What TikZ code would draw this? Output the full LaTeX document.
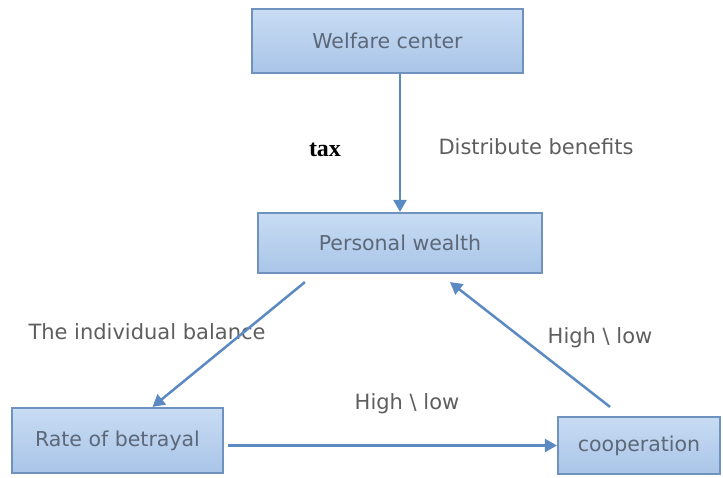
\documentclass[tikz,border=0pt]{standalone}
\usepackage{fontspec}
\usepackage{tikz}
\usetikzlibrary{arrows.meta,calc}
\newfontfamily\boxfont{DejaVu Sans}
\newfontfamily\taxfont{Liberation Serif}
\definecolor{boxline}{HTML}{6F92BF}
\definecolor{boxtop}{HTML}{C8DCF3}
\definecolor{boxbot}{HTML}{A9C5E8}
\definecolor{boxtext}{HTML}{5C6878}
\definecolor{arrowblue}{HTML}{5B8AC2}
\definecolor{labeltext}{HTML}{5E5E5E}

\tikzset{
  stagebox/.style={draw=boxline, line width=2.2pt, top color=boxtop, bottom color=boxbot,
    text=boxtext, font=\boxfont\fontsize{20.5}{24}\selectfont, inner sep=0pt},
  flow/.style={draw=arrowblue, line width=2.5pt, -{Triangle[length=12pt,width=13pt]}},
  lbl/.style={text=labeltext, font=\boxfont\fontsize{21}{25}\selectfont, inner sep=0pt}
}

\begin{document}
\begin{tikzpicture}[x=1pt, y=-1pt]
  \useasboundingbox (0,0) rectangle (723,477);
  % boxes
  \node[stagebox, minimum width=271pt, minimum height=64pt] (wel)  at (387.5,41) {Welfare center};
  \node[stagebox, minimum width=284pt, minimum height=60pt] (pw)   at (400,243)  {Personal wealth};
  \node[stagebox, minimum width=211pt, minimum height=65pt] (rate) at (117.5,440.5) {Rate of betrayal};
  \node[stagebox, minimum width=162pt, minimum height=57pt] (coop) at (639,445.5) {cooperation};

  % labels
  \node[text=black, font=\taxfont\bfseries\fontsize{24}{28}\selectfont, inner sep=0pt] (tax) at (325,150) {tax};
  \node[lbl] (dist) at (536,147) {Distribute benefits};
  \node[lbl] (bal)  at (147,332) {The individual balance};
  \node[lbl] (hl1)  at (407,404) {High \textbackslash{} low};
  \node[lbl] (hl2)  at (600,338) {High \textbackslash{} low};

  % connectors
  \path
  (wel.south -| pw.north) edge[flow] (pw.north)
  ($(pw.south west)+(48,8)$) edge[flow] ($(rate.north)+(35,0)$)
  ([xshift=4pt]rate.east |- coop.west) edge[flow] (coop.west)
  ($(coop.north)+(-29,-9)$) edge[flow] ($(pw.south)+(50,8)$)
  ;
\end{tikzpicture}
\end{document}
